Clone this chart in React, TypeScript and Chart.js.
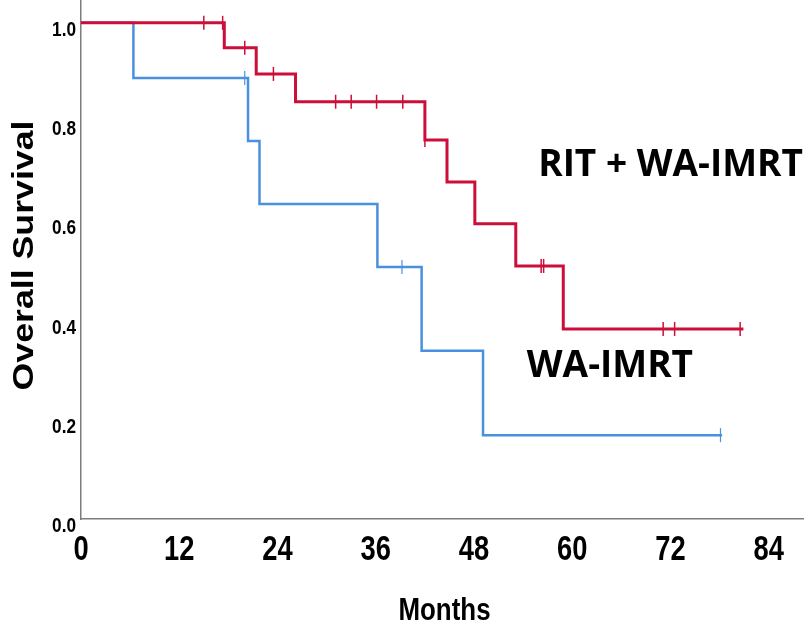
import React, { useEffect, useRef } from "react";
import { Chart, registerables } from "chart.js";

Chart.register(...registerables);

// ---- Data ----
const xTickValues = [0, 12, 24, 36, 48, 60, 72, 84];
const yTickValues = [0, 0.2, 0.4, 0.6, 0.8, 1.0];

const seriesNames = ["RIT + WA-IMRT", "WA-IMRT"];
const xAxisTitle = "Months";
const yAxisTitle = "Overall Survival";

// RIT + WA-IMRT (red)
const ritTimes = [0, 17.5, 21.4, 26.2, 42.0, 44.7, 48.1, 53.1, 58.9, 80.9];
const ritSurvival = [1.0, 0.95, 0.897, 0.841, 0.764, 0.679, 0.595, 0.51, 0.383, 0.383];
const ritCensored = [15.0, 17.3, 20.0, 23.5, 31.1, 33.0, 36.1, 39.3, 42.0, 56.2, 56.5, 71.1, 72.5, 80.5];

// WA-IMRT (blue)
const imrtTimes = [0, 6.4, 20.4, 21.8, 36.2, 41.6, 49.1, 78.3];
const imrtSurvival = [1.0, 0.889, 0.762, 0.635, 0.508, 0.339, 0.169, 0.169];
const imrtCensored = [20.0, 39.2, 78.1];

// Label anchor positions (in data units: months, survival)
const ritLabelAt = [72.0, 0.712];
const imrtLabelAt = [64.6, 0.307];

const RED = "#cc0f3a";
const BLUE = "#4a90e0";
const SANS = "'Liberation Sans', Arial, sans-serif";

function survivalAt(times: number[], surv: number[], t: number): number {
  let v = surv[0];
  for (let i = 0; i < times.length; i++) {
    if (times[i] <= t) v = surv[i];
  }
  return v;
}

function squeezedText(ctx: any, text: string, x: number, y: number, sx: number, rot = 0) {
  ctx.save();
  ctx.translate(x, y);
  if (rot) ctx.rotate(rot);
  ctx.scale(sx, 1);
  ctx.fillText(text, 0, 0);
  ctx.restore();
}

const axisTextPlugin = {
  id: "axisText",
  afterDraw(chart: any) {
    const { ctx, scales, chartArea } = chart;
    const xs = scales.x;
    const ys = scales.y;
    ctx.save();
    ctx.fillStyle = "#000";
    ctx.textBaseline = "alphabetic";

    // x tick labels (condensed bold)
    ctx.font = `bold 35px ${SANS}`;
    ctx.textAlign = "center";
    xs.ticks.forEach((t: any) => {
      squeezedText(ctx, String(t.value), xs.getPixelForValue(t.value), chartArea.bottom + 41, 0.78);
    });

    // y tick labels (condensed bold)
    ctx.font = `bold 21px ${SANS}`;
    ctx.textAlign = "right";
    ys.ticks.forEach((t: any) => {
      squeezedText(ctx, Number(t.value).toFixed(1), chartArea.left - 5, ys.getPixelForValue(t.value) + 13, 0.82);
    });

    // x axis title
    ctx.font = `bold 32px ${SANS}`;
    ctx.textAlign = "center";
    squeezedText(ctx, xAxisTitle, (chartArea.left + chartArea.right) / 2 + 2, chartArea.bottom + 101, 0.81);

    // y axis title (rotated, stretched)
    ctx.font = `bold 30px ${SANS}`;
    ctx.textAlign = "center";
    squeezedText(ctx, yAxisTitle, 33, (chartArea.top + chartArea.bottom) / 2 - 4, 1.19, -Math.PI / 2);

    // curve labels
    ctx.font = "bold 37px 'Open Sans', sans-serif";
    ctx.textAlign = "center";
    ctx.textBaseline = "middle";
    ctx.fillText(seriesNames[0], xs.getPixelForValue(ritLabelAt[0]), ys.getPixelForValue(ritLabelAt[1]));
    ctx.fillText(seriesNames[1], xs.getPixelForValue(imrtLabelAt[0]), ys.getPixelForValue(imrtLabelAt[1]));
    ctx.restore();
  },
};

export default function App() {
  const canvasRef = useRef<HTMLCanvasElement | null>(null);

  useEffect(() => {
    if (!canvasRef.current) return;
    const ritLine = ritTimes.map((t, i) => ({ x: t, y: ritSurvival[i] }));
    const imrtLine = imrtTimes.map((t, i) => ({ x: t, y: imrtSurvival[i] }));
    const ritMarks = ritCensored.map((t) => ({ x: t, y: survivalAt(ritTimes, ritSurvival, t) }));
    const imrtMarks = imrtCensored.map((t) => ({ x: t, y: survivalAt(imrtTimes, imrtSurvival, t) }));

    const zeroPad = (s: any) => {
      s.paddingTop = 0;
      s.paddingBottom = 0;
      s.paddingLeft = 0;
      s.paddingRight = 0;
    };

    const chart = new Chart(canvasRef.current, {
      type: "line",
      data: {
        datasets: [
          {
            label: seriesNames[0] + " censored",
            data: ritMarks,
            showLine: false,
            pointStyle: "line",
            rotation: 90,
            pointRadius: 7,
            pointBorderWidth: 1.5,
            borderColor: RED,
            backgroundColor: RED,
          } as any,
          {
            label: seriesNames[0],
            data: ritLine,
            stepped: true,
            borderColor: RED,
            borderWidth: 3,
            pointRadius: 0,
            fill: false,
          },
          {
            label: seriesNames[1] + " censored",
            data: imrtMarks,
            showLine: false,
            pointStyle: "line",
            rotation: 90,
            pointRadius: 7,
            pointBorderWidth: 1.2,
            borderColor: BLUE,
            backgroundColor: BLUE,
          } as any,
          {
            label: seriesNames[1],
            data: imrtLine,
            stepped: true,
            borderColor: BLUE,
            borderWidth: 2.5,
            pointRadius: 0,
            fill: false,
          },
        ],
      },
      options: {
        responsive: false,
        animation: false,
        layout: { padding: 0, autoPadding: false },
        plugins: {
          legend: { display: false },
          tooltip: { enabled: false },
          title: { display: false },
        },
        scales: {
          x: {
            type: "linear",
            min: 0,
            max: 88.3,
            grid: { display: false, drawTicks: false },
            border: { display: true, color: "#7d7d7d", width: 1.5 },
            afterBuildTicks: (s: any) => {
              s.ticks = xTickValues.map((v) => ({ value: v }));
            },
            afterFit: (s: any) => {
              s.height = 107;
              zeroPad(s);
            },
            ticks: { display: false },
            title: { display: false, text: xAxisTitle },
          },
          y: {
            type: "linear",
            min: 0,
            max: 1.046,
            grid: { display: false, drawTicks: false },
            border: { display: true, color: "#7d7d7d", width: 1.5 },
            afterBuildTicks: (s: any) => {
              s.ticks = yTickValues.map((v) => ({ value: v }));
            },
            afterFit: (s: any) => {
              s.width = 81;
              zeroPad(s);
            },
            ticks: { display: false },
            title: { display: false, text: yAxisTitle },
          },
        },
      },
      plugins: [axisTextPlugin],
    });
    return () => chart.destroy();
  }, []);

  return (
    <div style={{ position: "fixed", left: 0, top: 0, width: 804, height: 626, background: "#fff" }}>
      <canvas ref={canvasRef} width={804} height={626} style={{ display: "block" }} />
    </div>
  );
}
